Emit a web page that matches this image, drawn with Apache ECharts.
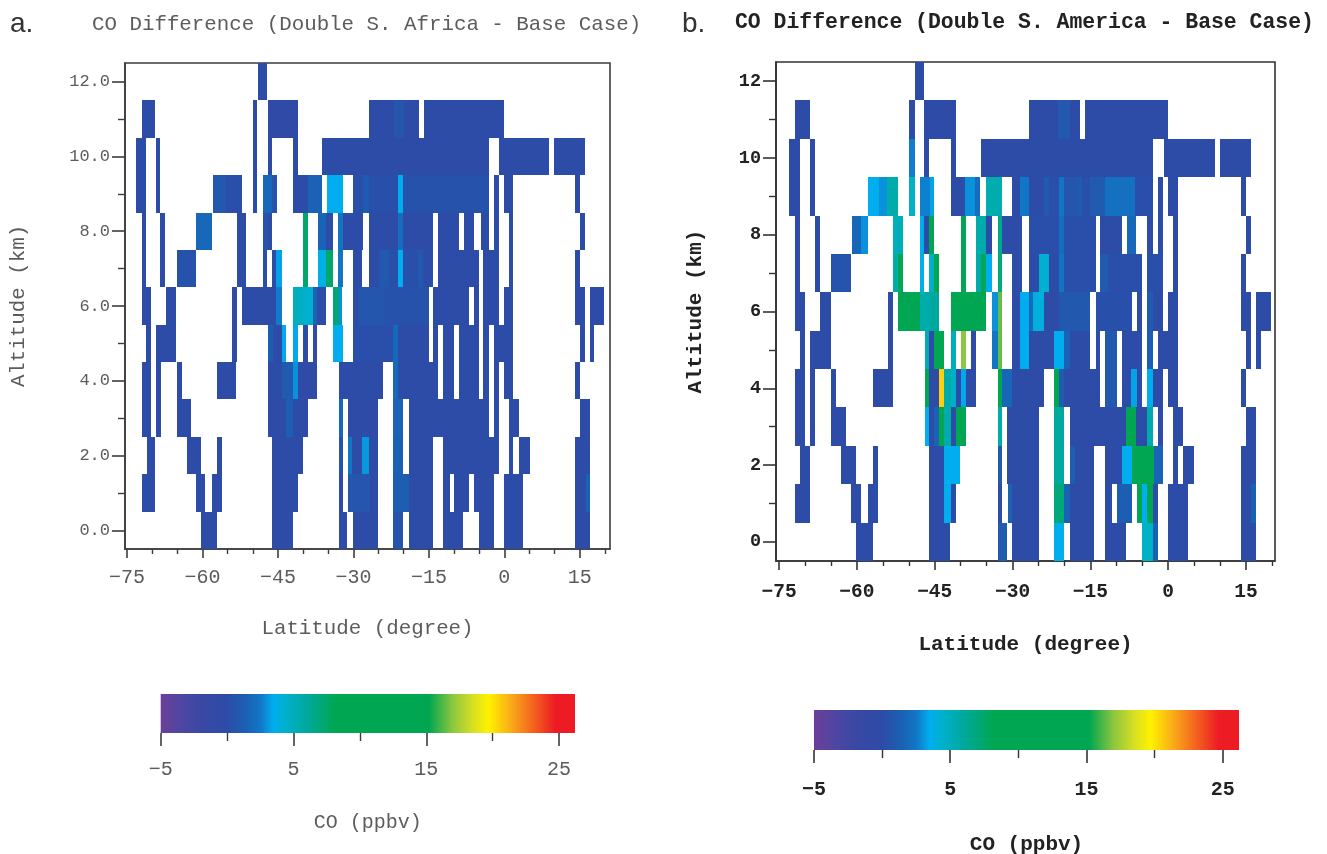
<!DOCTYPE html>
<html><head><meta charset="utf-8">
<script src="https://cdn.jsdelivr.net/npm/echarts@6/dist/echarts.min.js"></script>
<style>html,body{margin:0;padding:0;background:#fff}#c{width:1327px;height:854px}</style>
</head><body><div id="c"></div>
<script>
// Colour scale of CO difference (ppbv)
const colorStops = [[-5,'#6b3f98'],[-3.5,'#4f46a2'],[-2,'#3a48a4'],[0,'#2c4ca8'],[1.5,'#1a62b4'],[2.5,'#1276c6'],[3.5,'#00aeef'],[4.5,'#00b0c8'],[6,'#00a99d'],[8.2,'#00a651'],[15.2,'#00a651'],[17,'#8dc63f'],[18.5,'#d7df23'],[19.7,'#fff200'],[21.5,'#f9a51a'],[24.7,'#ed1c24'],[26.2,'#ed1c24']];
const cbarRange = [-5, 26.2];
const cbarMajor = [-5, 5, 15, 25];
const cbarMinor = [0, 10, 20];
const latMajor = [-75, -60, -45, -30, -15, 0, 15];
const latMinor = [-70, -65, -55, -50, -40, -35, -25, -20, -10, -5, 5, 10, 20];
const altMajor = [0, 2, 4, 6, 8, 10, 12];
const altMinor = [1, 3, 5, 7, 9, 11];

// Panel a: each row is one altitude (km); each run is [lat start, lat end, CO ppbv]
const a12 = [[-49.04,-47.25,0]];
const a11 = [[-72.1,-69.4,0],[-50,-49.2,0],[-47.05,-41.1,-0.4],[-27,-22,0],[-22,-20,0.7],[-20,-17,0],[-16,0,0]];
const a10 = [[-73.2,-71.2,0],[-69.25,-68.4,0],[-50,-49.2,0],[-47.05,-46.2,0],[-41.95,-41.1,0],[-36.25,-2.98,0],[-1,8.94,0],[9.94,16.03,0]];
const a9 = [[-73.2,-71.2,0],[-69.25,-68.4,0],[-58,-55.4,0.8],[-55.4,-52.2,0.2],[-50,-49.2,0],[-48.05,-46.1,1.8],[-46.1,-45.25,0.5],[-41.95,-39.1,0],[-39.1,-36.25,1.5],[-35.3,-32.15,3.5],[-30,-28,0.3],[-28,-27,1],[-27,-21.2,0.3],[-21.2,-20.2,3.5],[-20.2,-3,0.4],[-2,-1,0],[0,1.8,0],[14.1,15,0]];
const a8 = [[-72.1,-71.2,0],[-68.4,-67.4,0],[-61.2,-58.2,1.8],[-53.15,-51.35,0],[-48.05,-47,0.5],[-47,-46.2,0],[-40.1,-39.1,7.5],[-37.1,-35.45,1.6],[-35.45,-34,0],[-33,-32.15,2.4],[-32,-28.15,0],[-27,-21.2,0],[-21.2,-20.2,2],[-20.2,-14.1,0],[-13.1,-8.95,0],[-8,-6.1,0],[-4.65,-3,0],[-2,-1,0],[0.85,1.8,0],[15,16.03,0]];
const a7 = [[-72.1,-71.2,0],[-68.4,-67.4,0],[-65.1,-61.3,0.4],[-53.15,-51.35,0],[-48.05,-47.25,0.2],[-46.2,-45.4,0],[-45.4,-44.25,3.3],[-40.1,-39.1,7.5],[-37.1,-35.45,3.8],[-35.45,-34,7.5],[-33,-32.15,2.4],[-30.15,-28.3,0],[-27,-25,0],[-25,-23,0.8],[-23,-21.2,0.3],[-21.2,-20.2,3.5],[-20.2,-17.2,0.3],[-17.2,-16.2,0.8],[-16.2,-14.1,0],[-13.1,-5.1,0],[-4.2,-1,0],[0.85,1.8,0],[14.1,15,0]];
const a6 = [[-72.1,-70.25,0],[-67.25,-65.3,0],[-54.15,-53.2,0],[-52.2,-45.4,0],[-45.4,-44.25,2.6],[-41.95,-40,4.8],[-40,-38.1,4.4],[-38.1,-37.2,1.5],[-37.2,-35.45,0],[-34,-32.9,7.2],[-32.9,-32.2,3],[-30,-28.83,0],[-28.83,-24,0.7],[-24,-15.05,0.4],[-14.1,-7.1,0],[-6.1,-5.1,0],[-4.2,-1,0],[0,1.8,0],[14.1,16.03,0],[17.03,19.9,0]];
const a5 = [[-71.2,-70.25,0],[-69.25,-65.3,0],[-54.15,-53.2,0],[-47.05,-46,1.2],[-46,-44.25,0],[-44.25,-43.4,3.4],[-41.95,-41.1,3.4],[-40.1,-39.1,0],[-38.1,-37.3,-1],[-34,-32.15,3.5],[-30,-22.2,0.2],[-22.2,-21.2,1.9],[-21.2,-15.05,0],[-14.1,-13.1,0],[-12.25,-9.95,0],[-8.95,-5.1,0],[-4.2,-3,0],[-2,1.8,0],[15,16.03,0],[17.03,17.9,0]];
const a4 = [[-72.1,-70.25,0],[-69.25,-68.25,0],[-65.1,-64.15,0],[-57.1,-53.35,0],[-47.05,-44.25,0],[-44.25,-41.95,1],[-41.95,-41.1,3],[-41.1,-37.3,-0.5],[-32.8,-24.2,0],[-22.2,-21.2,1.9],[-21.2,-13.1,0],[-12.25,-9.95,0],[-8.95,-5.1,0],[-4.2,-3,0],[-2,-1,0],[0,1.8,0],[14.1,15,0]];
const a3 = [[-72.1,-70.25,0],[-69.25,-68.25,0],[-65.1,-62.3,0],[-47.05,-43.4,0],[-43.4,-42,1.2],[-42,-39.1,0],[-32.8,-32.15,1.8],[-31.15,-25.2,-0.3],[-22.2,-20.2,1.6],[-18.9,-3,0],[-2,-1,0],[0.85,2.85,0],[15,17.03,0]];
const a2 = [[-71.1,-69.4,0],[-63.15,-60.3,0],[-57.1,-56.1,0],[-46.2,-40.1,-0.2],[-32.8,-32,0.5],[-31.15,-30.2,2.5],[-30.2,-28.3,0],[-28.3,-27,3.1],[-27,-25.2,0],[-22.2,-20.2,1.4],[-18.9,-14.25,0],[-12.25,-1,0],[0.85,1.8,0],[2.85,5.1,0],[14.1,17.03,0]];
const a1 = [[-72.1,-69.4,0],[-61.2,-59.45,0],[-58.1,-56.1,0],[-46.2,-41.1,0],[-32.8,-32.15,0],[-31.15,-26.8,0.6],[-26.8,-25.2,0],[-22.2,-18.9,1.2],[-18.9,-14.25,0],[-12.25,-10.9,0],[-9.95,-7.1,0],[-6.1,-2,0],[0,3.77,0],[14.1,16.2,0],[16.2,17.03,1.5]];
const a0 = [[-60.2,-57.2,0],[-46.2,-42.1,0],[-32.9,-31.3,0],[-30.15,-25.2,0],[-22.2,-20.2,0.5],[-18.9,-14.25,0],[-12.25,-8.15,0],[-5.1,-2,0],[0,3.77,0],[14.1,17.03,0]];

// Panel b: same layout
const b12 = [[-48.86,-47,0]];
const b11 = [[-72,-69.1,0],[-49.9,-48.86,0],[-47,-40.96,-0.3],[-26.88,-21.3,0],[-21.3,-19,0.8],[-19,-16.92,0],[-15.95,0,0]];
const b10 = [[-73,-71.04,0],[-69.1,-68.15,0],[-49.9,-48.86,2.6],[-47,-46.03,0],[-41.86,-40.96,0],[-36.07,-2.9,0],[-0.85,8.99,0],[9.95,16,0]];
const b9 = [[-73,-71.04,0],[-69.1,-68.15,0],[-57.86,-55.8,3.5],[-55.8,-54.2,3],[-54.2,-52.14,5.5],[-49.9,-48.86,4.6],[-47.9,-45.9,2.7],[-45.9,-45.07,3.3],[-41.86,-39.1,0],[-39.1,-37.2,3],[-37.2,-36.2,2],[-35.04,-32.02,5.4],[-30.1,-28.49,0],[-28.49,-26.88,2.5],[-26.88,-24,0],[-24,-23,1],[-23,-21.1,0.2],[-21.1,-20.1,2.4],[-20.1,-17.5,0.6],[-17.5,-16.7,1],[-16.7,-15,0.3],[-15,-12.1,1],[-12.1,-6.3,2.2],[-6.3,-2.9,0.2],[-1.94,-0.97,0],[0,1.85,0],[14.07,15.03,0]];
const b8 = [[-72,-71.04,0],[-68.15,-67.19,0],[-60.95,-59.2,1.7],[-59.2,-57.93,3],[-53.04,-51.18,5],[-47.9,-47,3.6],[-47,-46.03,0],[-46.03,-45.07,9],[-39.93,-38.96,8.5],[-37.03,-35.1,5.5],[-35.1,-33.95,0],[-32.86,-32.02,6.5],[-32.02,-28.16,0],[-26.88,-21.1,0.2],[-21.1,-20.1,2],[-20.1,-14,0.2],[-13.06,-8.88,0],[-7.92,-6.12,1.8],[-4.06,-2.9,0],[-1.94,-0.97,0],[0.95,1.85,0],[15.03,16,0]];
const b7 = [[-72,-71.04,0],[-68.15,-67.19,0],[-64.94,-61.14,0.5],[-53.04,-52.1,5.5],[-52.1,-51.18,9],[-47.9,-47,3.6],[-46.03,-45.07,4.5],[-45.07,-44.1,9],[-39.93,-38.96,8.5],[-37.03,-36.1,5.5],[-36.1,-35.1,8.5],[-35.1,-33.95,3.5],[-32.86,-32.02,7],[-30.1,-28.16,0],[-26.88,-24.95,0],[-24.95,-23.03,4.3],[-23.03,-21.1,0],[-21.1,-20.1,2.4],[-20.1,-14,0.2],[-13.06,-11.5,1],[-11.5,-5.02,0.2],[-4.06,-0.97,0.2],[0.95,1.85,0],[14.07,15.03,0]];
const b6 = [[-72,-70.08,0],[-67.19,-64.94,0],[-54.07,-53.1,0],[-52.08,-47.9,9],[-47.9,-46,5.5],[-46,-44.1,6],[-41.86,-37.8,9],[-37.8,-36.5,11],[-36.5,-35.1,9],[-33.95,-32.86,3],[-32.86,-32.02,16.5],[-30.1,-28.49,0],[-28.49,-26.9,3.5],[-26.9,-26,1.9],[-26,-24,4],[-24,-21.1,0],[-21.1,-15,0.8],[-14,-6.95,0.3],[-5.99,-5.02,0],[-4.06,-2.9,1],[-2.9,-0.97,0],[0,1.85,0],[14.07,16,0],[17.03,19.85,0]];
const b5 = [[-71.04,-70.08,0],[-69.1,-64.94,0],[-54.07,-53.1,0],[-46.93,-46.03,5.2],[-46.03,-45.07,0],[-45.07,-43.14,8.5],[-41.86,-40.9,5],[-39.93,-38.96,17],[-37.99,-37.03,0],[-33.95,-32.86,2.5],[-32.86,-32.02,16.5],[-30.1,-28.49,0],[-28.49,-26.9,3.5],[-26.9,-22.06,0],[-22.06,-20.13,3.5],[-20.13,-18.85,1.5],[-18.85,-14.99,0],[-14,-13.06,0],[-12.1,-9.85,0.8],[-8.88,-5.02,0],[-4.06,-2.9,1.2],[-1.94,1.85,0],[15.03,16,0],[17.03,17.93,0]];
const b4 = [[-72,-70.08,0],[-69.1,-68.15,0],[-64.94,-63.97,0],[-56.96,-53.1,0],[-46.93,-46.03,9],[-46.03,-44.23,0],[-44.23,-43.14,20.5],[-43.14,-41.86,5.5],[-41.86,-40.9,4.6],[-40.9,-39.93,0],[-39.93,-38.96,3.4],[-38.96,-37.03,0],[-32.86,-32.02,9],[-32.02,-30.1,1.7],[-30.1,-23.99,0],[-22.06,-21.1,9],[-21.1,-20.13,1],[-20.13,-13.06,0],[-12.1,-9.85,0.8],[-8.88,-7.08,0],[-7.08,-6,3.3],[-6,-5.02,0],[-4.06,-2.9,3.5],[-2.9,-0.97,0],[0,1.85,0],[14.07,15.03,0]];
const b3 = [[-72,-70.08,0],[-69.1,-68.15,0],[-64.94,-62.1,0],[-46.93,-46.03,3.5],[-46.03,-45.07,0],[-45.07,-44.1,1.5],[-44.1,-43.14,9],[-43.14,-41.86,5.5],[-41.86,-40.9,0],[-40.9,-38.96,9],[-32.86,-32.02,5.5],[-31.06,-24.95,0],[-22.06,-20.13,6],[-18.85,-8.05,0],[-8.05,-6.12,9.5],[-6.12,-4.06,0],[-4.06,-2.9,5.5],[-1.94,-0.97,0],[0.95,2.88,0],[15.03,16.96,0]];
const b2 = [[-71.04,-69.1,0],[-63,-60.18,0],[-56.96,-56,0],[-46.03,-43.14,0],[-43.14,-40.06,3.5],[-32.86,-32.02,0.8],[-31.06,-24.95,0],[-22.06,-20.13,6],[-18.85,-17.9,1.3],[-17.9,-14.22,0],[-12.1,-8.88,0],[-8.88,-6.95,3.5],[-6.95,-2.77,9.5],[-2.77,-0.97,1.6],[0.95,1.85,0],[2.88,5.07,0],[14.07,16.96,0]];
const b1 = [[-72,-69.1,0],[-61.08,-59.21,0],[-57.93,-56,0],[-46.03,-43.14,0],[-43.14,-41.86,3.5],[-41.86,-40.9,0],[-32.86,-32.02,0],[-30.9,-30.1,1.5],[-30.1,-24.95,0],[-22.06,-20.13,7],[-20.13,-18.85,1.5],[-18.85,-14.22,0],[-12.1,-10.81,0],[-9.85,-6.95,1.2],[-5.99,-5.02,8.5],[-5.02,-4.06,3.5],[-4.06,-2.9,9],[-2.9,-1.94,0],[0,3.78,0],[14.07,16,0],[16,16.96,1.4]];
const b0 = [[-60.11,-56.96,0],[-46.03,-41.98,0],[-32.86,-31.06,1],[-30.1,-24.95,0],[-22.06,-20.13,3.5],[-18.85,-14.22,0],[-12.1,-8.05,0],[-5.02,-2.9,4.6],[-2.9,-1.94,1.4],[0,3.78,0],[14.07,16.96,0]];

const rowsA = [a0,a1,a2,a3,a4,a5,a6,a7,a8,a9,a10,a11,a12];
const rowsB = [b0,b1,b2,b3,b4,b5,b6,b7,b8,b9,b10,b11,b12];

function colorOf(v){
  for(let i=1;i<colorStops.length;i++){
    if(v<=colorStops[i][0]){
      const a=colorStops[i-1], b=colorStops[i];
      return echarts.color.lerp((v-a[0])/(b[0]-a[0]),[a[1],b[1]]);
    }
  }
  return colorStops[colorStops.length-1][1];
}
function flatten(rows){
  const out=[];
  rows.forEach((runs,km)=>runs.forEach(r=>out.push([r[0],r[1],km,r[2]])));
  return out;
}
function renderCell(params,api){
  const p0=api.coord([api.value(0),api.value(2)+0.5]);
  const p1=api.coord([api.value(1),api.value(2)-0.5]);
  const x0=Math.round(p0[0]),x1=Math.round(p1[0]),y0=Math.round(p0[1]),y1=Math.round(p1[1]);
  return {type:'rect',shape:{x:x0,y:y0,width:x1-x0,height:y1-y0},
    style:{fill:colorOf(api.value(3))}};
}
function renderBar(params,api){
  const p0=api.coord([api.value(0),1]);
  const p1=api.coord([api.value(1),0]);
  const lo=cbarRange[0], span=cbarRange[1]-lo;
  return {type:'rect',shape:{x:p0[0],y:p0[1],width:p1[0]-p0[0],height:p1[1]-p0[1]},
    style:{fill:new echarts.graphic.LinearGradient(0,0,1,0,colorStops.map(s=>({offset:(s[0]-lo)/span,color:s[1]})))}};
}

const styleA={font:'Liberation Mono',weight:'normal',color:'#5c5c5c',line:'#3c3c3c'};
const styleB={font:'Liberation Mono',weight:'bold',color:'#222',line:'#333'};

const grid=[],xAxis=[],yAxis=[],series=[],title=[];
function txt(st,size){return {fontFamily:st.font,fontWeight:st.weight,color:st.color,fontSize:size};}
function hiddenLine(){return {show:false,onZero:false};}

function addPanel(o){
  const gi=grid.length, xi=xAxis.length, yi=yAxis.length, st=o.st;
  grid.push({left:o.l,top:o.t,width:o.r-o.l,height:o.b-o.t,show:true,backgroundColor:'#fff',borderColor:st.line,borderWidth:1.6,containLabel:false,outerBoundsMode:'none'});
  const lw=1.6;
  xAxis.push({type:'value',gridIndex:gi,min:o.latMin,max:o.latMax,position:'bottom',splitLine:{show:false},
    axisLine:{show:true,onZero:false,lineStyle:{color:st.line,width:lw}},
    axisTick:{show:true,length:9,customValues:latMajor,lineStyle:{color:st.line,width:1.6}},
    axisLabel:{show:true,customValues:latMajor,margin:o.xMargin,hideOverlap:false,formatter:v=>String(v).replace('-','\u2212'),...txt(st,o.xFont)},
    name:'Latitude (degree)',nameLocation:'middle',nameGap:o.xGap,nameTextStyle:txt(st,o.nameFont)});
  xAxis.push({type:'value',gridIndex:gi,min:o.latMin,max:o.latMax,position:'bottom',splitLine:{show:false},
    axisLine:hiddenLine(),axisLabel:{show:false},
    axisTick:{show:true,length:5,customValues:latMinor,lineStyle:{color:st.line,width:1.4}}});
  yAxis.push({type:'value',gridIndex:gi,min:-0.5,max:12.5,position:'left',splitLine:{show:false},
    axisLine:{show:true,onZero:false,lineStyle:{color:st.line,width:lw}},
    axisTick:{show:true,length:13,customValues:altMajor,lineStyle:{color:st.line,width:1.6}},
    axisLabel:{show:true,customValues:altMajor,margin:o.yMargin,formatter:o.yFmt,...txt(st,o.yFont)},
    name:'Altitude (km)',nameLocation:'middle',nameGap:o.yGap,nameRotate:90,nameTextStyle:txt(st,o.nameFont)});
  yAxis.push({type:'value',gridIndex:gi,min:-0.5,max:12.5,position:'left',splitLine:{show:false},
    axisLine:hiddenLine(),axisLabel:{show:false},
    axisTick:{show:true,length:7,customValues:altMinor,lineStyle:{color:st.line,width:1.4}}});
  series.push({type:'custom',xAxisIndex:xi,yAxisIndex:yi,renderItem:renderCell,clip:true,silent:true,
    encode:{x:[0,1],y:2},data:flatten(o.rows),animation:false});
}
function addBar(o){
  const gi=grid.length, xi=xAxis.length, yi=yAxis.length, st=o.st;
  grid.push({left:o.l,top:o.t,width:o.r-o.l,height:o.b-o.t,show:false,outerBoundsMode:'none'});
  xAxis.push({type:'value',gridIndex:gi,min:cbarRange[0],max:cbarRange[1],position:'bottom',splitLine:{show:false},
    axisLine:hiddenLine(),
    axisTick:{show:true,length:13,customValues:cbarMajor,lineStyle:{color:st.line,width:1.6}},
    axisLabel:{show:true,customValues:cbarMajor,margin:o.margin,formatter:v=>String(v).replace('-','\u2212'),...txt(st,o.font)},
    name:'CO (ppbv)',nameLocation:'middle',nameGap:o.gap,nameTextStyle:txt(st,o.nameFont)});
  xAxis.push({type:'value',gridIndex:gi,min:cbarRange[0],max:cbarRange[1],position:'bottom',splitLine:{show:false},
    axisLine:hiddenLine(),axisLabel:{show:false},
    axisTick:{show:true,length:8,customValues:cbarMinor,lineStyle:{color:st.line,width:1.4}}});
  yAxis.push({type:'value',gridIndex:gi,min:0,max:1,show:false});
  series.push({type:'custom',xAxisIndex:xi,yAxisIndex:yi,renderItem:renderBar,clip:false,silent:true,
    encode:{x:[0,1]},data:[[cbarRange[0],cbarRange[1]]],animation:false});
}

addPanel({l:125,r:610,t:63,b:549,latMin:-75.4,latMax:21,rows:rowsA,st:styleA,xFont:20,yFont:17,nameFont:20.8,xMargin:19,yMargin:15,xGap:69,yGap:96,yFmt:v=>v.toFixed(1)});
addPanel({l:776,r:1275,t:62,b:561,latMin:-75.6,latMax:20.6,rows:rowsB,st:styleB,xFont:19.5,yFont:18.5,nameFont:21,xMargin:21,yMargin:15,xGap:73,yGap:70,yFmt:v=>String(v)});
addBar({l:160.7,r:575,t:694,b:733,st:styleA,font:20,nameFont:20,margin:27,gap:80});
addBar({l:814,r:1239,t:710,b:750,st:styleB,font:20,nameFont:21,margin:30,gap:84});

title.push({text:'CO Difference (Double S. Africa - Base Case)',left:87,top:9,textStyle:txt(styleA,20.8)});
title.push({text:'CO Difference (Double S. America - Base Case)',left:730,top:7,textStyle:txt(styleB,21.45)});
title.push({text:'a.',left:5,top:5,textStyle:{fontFamily:'Liberation Sans',fontWeight:'normal',fontSize:28,color:'#333'}});
title.push({text:'b.',left:677,top:5,textStyle:{fontFamily:'Liberation Sans',fontWeight:'normal',fontSize:28,color:'#333'}});

const chart=echarts.init(document.getElementById('c'),null,{renderer:'canvas'});
chart.setOption({animation:false,backgroundColor:'#fff',title,grid,xAxis,yAxis,series,tooltip:{show:false}});
</script></body></html>
